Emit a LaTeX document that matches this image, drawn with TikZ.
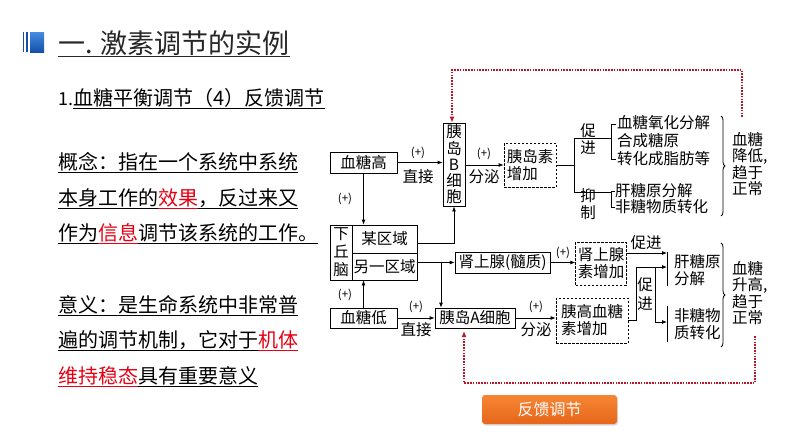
\documentclass[tikz,border=0pt]{standalone}
\usepackage{fontspec}
\setmainfont{Noto Sans CJK SC}
\usetikzlibrary{arrows.meta,decorations.pathreplacing,shadows}
\definecolor{myred}{RGB}{230,0,18}
\definecolor{dotred}{RGB}{190,20,40}
\definecolor{orangeT}{RGB}{246,134,52}
\definecolor{orangeB}{RGB}{230,102,26}
\definecolor{blueT}{RGB}{70,140,225}
\definecolor{blueB}{RGB}{20,80,170}
\definecolor{titlec}{RGB}{38,38,38}
\newcommand\dfs{\fontsize{15.5}{17}\selectfont}
\newcommand\sfs{\fontsize{11.5}{13}\selectfont}
\newcommand\tfs{\fontsize{20}{22}\selectfont}
\newcommand\myul[1]{\underline{\vrule width 0pt depth 2pt height 0pt\relax #1}}
\newcommand\rul[1]{\textcolor{myred}{\myul{#1}}}
\begin{document}
\begin{tikzpicture}[x=1pt,y=-1pt,
  box/.style={draw, line width=0.8pt, inner sep=0pt, font=\dfs},
  dbox/.style={draw, dash pattern=on 2.5pt off 1.5pt, line width=0.8pt, inner sep=2pt, font=\dfs, align=left},
  arr/.style={-{Latex[length=5pt,width=4pt]}, line width=0.8pt},
  ln/.style={line width=0.8pt},
  lab/.style={font=\sfs, inner sep=1pt},
  wlab/.style={font=\dfs, inner sep=1pt},
  fb/.style={dotred, line width=1.6pt, dash pattern=on 1.6pt off 1.2pt},
  ptxt/.style={anchor=base west, inner sep=0pt, font=\tfs},
]
\useasboundingbox (0,0) rectangle (794,447);

% header icon
\fill[blueB] (22.7,32) rectangle (24.3,52);
\fill[blueB] (26,32) rectangle (28.3,52);
\shade[top color=blueT, bottom color=blueB] (30,32) rectangle (44,52);

% title
\node[anchor=base west, inner sep=0pt, text=titlec, font=\fontsize{27}{30}\selectfont] (title) at (58,53.5) {一. 激素调节的实例};
\coordinate (u1) at (58,56.5);
\draw[titlec, line width=1pt] (u1) -- (title.east |- u1);

% subtitle
\node[anchor=base west, inner sep=0pt, font=\fontsize{18}{20}\selectfont] (s1) at (58,105.5) {1.};
\node[anchor=base west, inner sep=0pt, font=\tfs] (s2) at (73,105.5) {血糖平衡调节（4）反馈调节};
\coordinate (u2) at (73,108.5);
\draw[line width=0.8pt] (u2) -- (s2.east |- u2);

% paragraph
\node[ptxt] (p1) at (58,169) {\myul{概念：指在一个系统中系统}};
\node[ptxt] (p2) at (58,205) {\myul{本身工作的}\rul{效果}\myul{，反过来又}};
\node[ptxt] (p3) at (58,240) {\myul{作为}\rul{信息}\myul{调节该系统的工作。}};
\node[ptxt] (p4) at (58,312) {\myul{意义：是生命系统中非常普}};
\node[ptxt] (p5) at (58,347) {\myul{遍的调节机制，它对于}\rul{机体}};
\node[ptxt] (p6) at (58,383) {\rul{维持稳态}\myul{具有重要意义}};

% diagram boxes
\node[box, minimum width=67, minimum height=21] (bgh) at (363.5,162.5) {血糖高};
\node[box, minimum width=22, minimum height=83, align=center, font=\fontsize{15.5}{16.2}\selectfont] (Bc) at (454,164.5) {胰\\岛\\B\\细\\胞};
\node[dbox, minimum width=52, minimum height=44] (ins) at (530,165) {胰岛素\\增加};
\node[box, minimum width=22, minimum height=55, align=center, font=\fontsize{15.5}{18}\selectfont] (hypL) at (341,252.5) {下\\丘\\脑};
\node[box, minimum width=65, minimum height=28] (hypA) at (384.5,239) {某区域};
\node[box, minimum width=65, minimum height=27] (hypB) at (384.5,266.5) {另一区域};
\node[box, minimum width=67, minimum height=20] (bgl) at (363.5,318) {血糖低};
\node[box, minimum width=95, minimum height=21] (adr) at (502.5,262.5) {肾上腺(髓质)};
\node[dbox, minimum width=48, minimum height=43] (adrh) at (601,263.5) {肾上腺\\素增加};
\node[box, minimum width=80, minimum height=20] (Ac) at (475,318) {胰岛A细胞};
\node[dbox, minimum width=72, minimum height=45] (glu) at (592,320.5) {胰高血糖\\素增加};

% connectors upper
\draw[arr] (bgh.east) -- (bgh.east -| Bc.west);
\node[lab] (l1) at (418,153) {(+)};
\node[wlab] (l2) at (418,177) {直接};
\draw[arr] (Bc.east |- ins.west) -- (ins.west);
\node[lab] (l3) at (484,154) {(+)};
\node[wlab] (l4) at (484,177) {分泌};
\draw[arr] (bgh.south) -- (bgh.south |- hypA.north);
\node[lab] (l5) at (345,199) {(+)};
\draw[arr] (bgl.north) -- (bgl.north |- hypB.south);
\node[lab] (l6) at (345,295) {(+)};
\coordinate (j1) at (454,243);
\draw[arr] (hypA.east |- j1) -- (j1) -- (Bc.south);
\draw[arr] (hypB.east |- adr.west) -- (adr.west);
\coordinate (j2) at (441,262.5);
\draw[arr] (j2) -- (j2 |- Ac.north);
\draw[arr] (bgl.east) -- (Ac.west);
\node[lab] (l7) at (416,307) {(+)};
\node[wlab] (l8) at (416,330) {直接};
\draw[arr] (Ac.east) -- (Ac.east -| glu.west);
\node[lab] (l9) at (536,307) {(+)};
\node[wlab] (l10) at (536,330) {分泌};
\draw[arr] (adr.east) -- (adr.east -| adrh.west);
\node[lab] (l11) at (563,253) {(+)};

% upper right branch
\coordinate (b1) at (574,165);
\draw[ln] (ins.east) -- (b1);
\draw[ln] (611,138) -- (574,138) -- (574,192) -- (611,192);
\draw[ln] (616,124) -- (611,124) -- (611,159) -- (616,159);
\draw[ln] (615,191) -- (611,191) -- (611,207) -- (615,207);
\node[wlab] (c1) at (588,131) {促};
\node[wlab] (c2) at (588,148) {进};
\node[wlab] (c3) at (588,196) {抑};
\node[wlab] (c4) at (588,213) {制};
\node[wlab, anchor=west] (r1) at (616,123) {血糖氧化分解};
\node[wlab, anchor=west] (r2) at (616,141) {合成糖原};
\node[wlab, anchor=west] (r3) at (616,159) {转化成脂肪等};
\node[wlab, anchor=west] (r4) at (614,191) {肝糖原分解};
\node[wlab, anchor=west] (r5) at (614,207) {非糖物质转化};
\draw[ln, decorate, decoration={brace, amplitude=4pt}] (721,116) -- (721,216);
\node[wlab, anchor=west, align=left, font=\fontsize{15.5}{16.3}\selectfont] (res1) at (731,164) {血糖\\降低,\\趋于\\正常};

% lower right branch
\coordinate (k1) at (667,253);
\draw[arr] (adrh.east |- k1) -- (k1);
\node[wlab] (c5) at (646,243) {促进};
\draw[ln] (667,252) -- (667,286);
\draw[ln] (667,306) -- (667,342);
\coordinate (g1) at (636,267);
\coordinate (g2) at (655,267);
\coordinate (g3) at (655,322);
\draw[ln] (glu.east) -- (glu.east -| g1) -- (g1);
\draw[arr] (g1) -- (667,267);
\draw[arr] (g2) -- (g3) -- (667,322);
\node[wlab] (c6) at (645,285) {促};
\node[wlab] (c7) at (645,304) {进};
\node[wlab, anchor=west, align=left] (r6) at (673,270) {肝糖原\\分解};
\node[wlab, anchor=west, align=left] (r7) at (673,324) {非糖物\\质转化};
\draw[ln, decorate, decoration={brace, amplitude=4pt}] (721,243) -- (721,347);
\node[wlab, anchor=west, align=left, font=\fontsize{15.5}{16.3}\selectfont] (res2) at (731,293) {血糖\\升高,\\趋于\\正常};

% feedback dotted lines
\coordinate (f1) at (742,117);
\coordinate (f2) at (742,70);
\coordinate (f3) at (452,70);
\draw[fb, -{Latex[length=6pt,width=5pt]}] (f1) -- (f2) -- (f3) -- (f3 |- Bc.north);
\coordinate (h1) at (755,336);
\coordinate (h2) at (755,383);
\coordinate (h3) at (464,383);
\coordinate (h4) at (464,331);
\draw[fb, -{Latex[length=6pt,width=5pt]}] (h1) -- (h2) -- (h3) -- (h4);

% button
\node[rounded corners=3pt, top color=orangeT, bottom color=orangeB, minimum width=135, minimum height=29, text=white, font=\fontsize{16}{18}\selectfont, drop shadow={opacity=0.3, shadow xshift=1pt, shadow yshift=-1.5pt}] (btn) at (549.5,409.5) {反馈调节};
\end{tikzpicture}
\end{document}
